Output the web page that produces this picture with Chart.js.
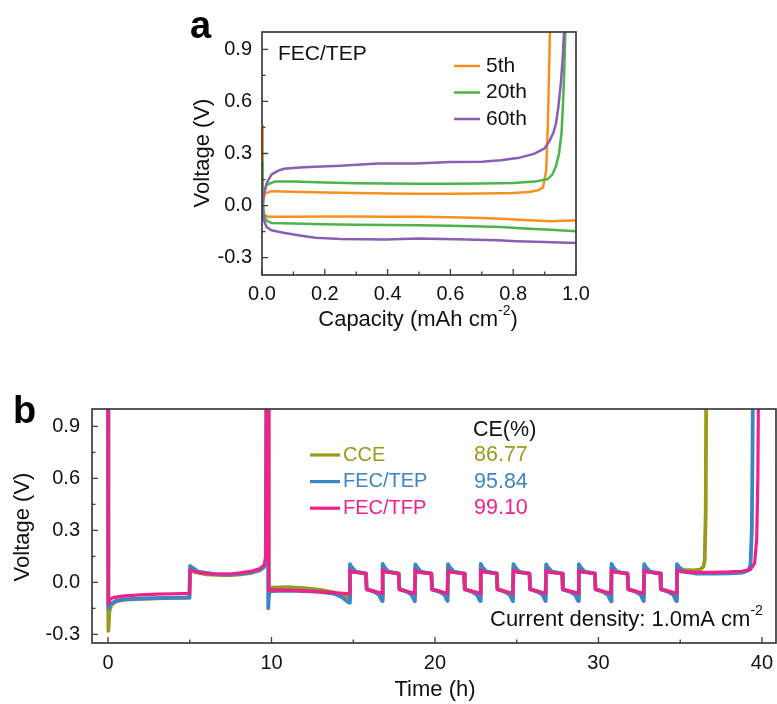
<!DOCTYPE html>
<html>
<head>
<meta charset="utf-8">
<script src="https://cdn.jsdelivr.net/npm/chart.js@4.4.1/dist/chart.umd.min.js"></script>
<style>
  body { margin: 0; background: #fff; }
  #wrap { position: relative; width: 777px; height: 704px; }
  #wrap canvas { position: absolute; left: 0; top: 0; }
</style>
</head>
<body>
<div id="wrap">
  <canvas id="chartA" width="777" height="704"></canvas>
  <canvas id="chartB" width="777" height="704"></canvas>
</div>
<script>
// ---- (a) voltage vs capacity, FEC/TEP ----
const capMajor = [0, 0.2, 0.4, 0.6, 0.8, 1.0];
const capMinor = [0.1, 0.3, 0.5, 0.7, 0.9];
const voltMajor = [-0.3, 0, 0.3, 0.6, 0.9];
const voltMinor = [-0.15, 0.15, 0.45, 0.75];
const cycleNames = ['5th', '20th', '60th'];

const cycle5Charge = [[0,-0.04],[0.004,0.03],[0.01,0.07],[0.03,0.083],[0.1,0.08],[0.2,0.076],[0.3,0.072],[0.4,0.069],[0.5,0.068],[0.6,0.068],[0.7,0.069],[0.8,0.072],[0.85,0.078],[0.88,0.088],[0.895,0.105],[0.905,0.2],[0.91,0.45],[0.914,0.75],[0.918,1.1]];
const cycle5Discharge = [[0,0.46],[0.001,0.15],[0.003,-0.02],[0.008,-0.055],[0.02,-0.064],[0.1,-0.064],[0.2,-0.063],[0.3,-0.063],[0.4,-0.064],[0.5,-0.065],[0.6,-0.068],[0.7,-0.072],[0.76,-0.076],[0.85,-0.084],[0.92,-0.09],[0.96,-0.088],[1.0,-0.086]];
const cycle20Charge = [[0,-0.05],[0.005,0.07],[0.015,0.12],[0.04,0.138],[0.1,0.138],[0.2,0.133],[0.3,0.129],[0.4,0.127],[0.5,0.126],[0.6,0.126],[0.7,0.127],[0.8,0.13],[0.87,0.138],[0.91,0.153],[0.925,0.18],[0.936,0.225],[0.946,0.3],[0.954,0.42],[0.959,0.6],[0.963,0.8],[0.967,1.05]];
const cycle20Discharge = [[0,0.25],[0.002,0.05],[0.006,-0.05],[0.015,-0.088],[0.03,-0.1],[0.1,-0.104],[0.2,-0.107],[0.3,-0.11],[0.4,-0.112],[0.5,-0.113],[0.6,-0.116],[0.7,-0.12],[0.76,-0.124],[0.85,-0.133],[0.92,-0.14],[1.0,-0.148]];
const cycle60Charge = [[0,-0.02],[0.005,0.06],[0.015,0.13],[0.03,0.178],[0.05,0.2],[0.07,0.212],[0.12,0.219],[0.17,0.223],[0.25,0.23],[0.37,0.242],[0.49,0.242],[0.6,0.251],[0.7,0.253],[0.76,0.261],[0.82,0.276],[0.866,0.298],[0.9,0.33],[0.915,0.37],[0.928,0.42],[0.936,0.47],[0.944,0.57],[0.952,0.71],[0.958,0.86],[0.963,1.05]];
const cycle60Discharge = [[0,0.0],[0.005,-0.08],[0.015,-0.125],[0.03,-0.142],[0.068,-0.157],[0.12,-0.172],[0.17,-0.185],[0.25,-0.192],[0.39,-0.195],[0.5,-0.19],[0.65,-0.195],[0.75,-0.2],[0.81,-0.205],[0.9,-0.21],[1.0,-0.216]];

// ---- (b) voltage vs time, three electrolytes ----
const timeMajor = [0, 10, 20, 30, 40];
const timeMinor = [5, 15, 25, 35];
const electrolytes = ['CCE', 'FEC/TEP', 'FEC/TFP'];
const ceValues = ['86.77', '95.84', '99.10'];

const cceVolt = [
  [0,1.3],[0.02,-0.28],[0.08,-0.17],[0.2,-0.13],[0.5,-0.11],[1,-0.1],[2,-0.095],[3,-0.092],[4,-0.09],[4.98,-0.088],
  [5.02,0.075],[5.3,0.06],[6,0.046],[7,0.041],[8,0.045],[8.8,0.055],[9.3,0.07],[9.55,0.09],[9.66,0.13],[9.7,1.3],[9.8,1.3],[9.83,-0.08],[9.9,-0.03],
  [11,-0.028],[12,-0.033],[13,-0.044],[13.8,-0.058],[14.4,-0.075],[14.76,-0.092],
  [14.8,0.085],[15.05,0.062],[15.78,0.05],[15.82,-0.038],[16.35,-0.055],[16.65,-0.068],[16.76,-0.085],
  [16.8,0.084],[17.05,0.062],[17.78,0.05],[17.82,-0.038],[18.35,-0.055],[18.65,-0.068],[18.76,-0.086],
  [18.8,0.085],[19.05,0.061],[19.78,0.05],[19.82,-0.039],[20.35,-0.055],[20.65,-0.069],[20.76,-0.085],
  [20.8,0.084],[21.05,0.062],[21.78,0.05],[21.82,-0.038],[22.35,-0.056],[22.65,-0.068],[22.76,-0.086],
  [22.8,0.085],[23.05,0.062],[23.78,0.051],[23.82,-0.038],[24.35,-0.055],[24.65,-0.069],[24.76,-0.085],
  [24.8,0.085],[25.05,0.061],[25.78,0.05],[25.82,-0.038],[26.35,-0.055],[26.65,-0.068],[26.76,-0.086],
  [26.8,0.084],[27.05,0.062],[27.78,0.05],[27.82,-0.039],[28.35,-0.055],[28.65,-0.069],[28.76,-0.085],
  [28.8,0.085],[29.05,0.062],[29.78,0.051],[29.82,-0.038],[30.35,-0.056],[30.65,-0.068],[30.76,-0.086],
  [30.8,0.084],[31.05,0.061],[31.78,0.05],[31.82,-0.038],[32.35,-0.055],[32.65,-0.069],[32.76,-0.085],
  [32.8,0.085],[33.05,0.062],[33.78,0.05],[33.82,-0.038],[34.35,-0.055],[34.65,-0.068],[34.76,-0.086],
  [34.8,0.09],[35.2,0.072],[35.8,0.069],[36.2,0.073],[36.42,0.09],[36.5,0.13],[36.56,0.4],[36.6,1.3]
];
const tepVolt = [
  [0,1.3],[0.02,-0.15],[0.15,-0.125],[0.5,-0.105],[1,-0.098],[2,-0.094],[3,-0.091],[4,-0.089],[4.98,-0.088],
  [5.02,0.095],[5.15,0.085],[5.5,0.062],[6.5,0.047],[7.5,0.044],[8.1,0.05],[8.8,0.058],[9.3,0.072],[9.55,0.09],[9.65,0.12],[9.7,1.3],[9.78,1.3],[9.8,-0.15],[9.85,-0.06],
  [10,-0.05],[11,-0.047],[12,-0.05],[13,-0.055],[13.8,-0.065],[14.3,-0.085],[14.6,-0.108],[14.76,-0.118],
  [14.8,0.105],[14.92,0.085],[15.15,0.062],[15.78,0.05],[15.82,-0.04],[16.3,-0.055],[16.58,-0.072],[16.72,-0.1],[16.77,-0.108],
  [16.8,0.106],[16.92,0.086],[17.15,0.062],[17.78,0.05],[17.82,-0.04],[18.3,-0.055],[18.58,-0.073],[18.72,-0.101],[18.77,-0.109],
  [18.8,0.104],[18.92,0.085],[19.15,0.061],[19.78,0.05],[19.82,-0.041],[20.3,-0.055],[20.58,-0.072],[20.72,-0.1],[20.77,-0.107],
  [20.8,0.105],[20.92,0.085],[21.15,0.062],[21.78,0.05],[21.82,-0.04],[22.3,-0.056],[22.58,-0.072],[22.72,-0.101],[22.77,-0.108],
  [22.8,0.106],[22.92,0.086],[23.15,0.062],[23.78,0.051],[23.82,-0.04],[24.3,-0.055],[24.58,-0.073],[24.72,-0.1],[24.77,-0.109],
  [24.8,0.105],[24.92,0.085],[25.15,0.061],[25.78,0.05],[25.82,-0.04],[26.3,-0.055],[26.58,-0.072],[26.72,-0.1],[26.77,-0.108],
  [26.8,0.104],[26.92,0.085],[27.15,0.062],[27.78,0.05],[27.82,-0.041],[28.3,-0.056],[28.58,-0.072],[28.72,-0.101],[28.77,-0.108],
  [28.8,0.105],[28.92,0.086],[29.15,0.062],[29.78,0.051],[29.82,-0.04],[30.3,-0.055],[30.58,-0.073],[30.72,-0.1],[30.77,-0.109],
  [30.8,0.106],[30.92,0.085],[31.15,0.061],[31.78,0.05],[31.82,-0.04],[32.3,-0.055],[32.58,-0.072],[32.72,-0.1],[32.77,-0.108],
  [32.8,0.105],[32.92,0.085],[33.15,0.062],[33.78,0.05],[33.82,-0.04],[34.3,-0.056],[34.58,-0.072],[34.72,-0.101],[34.77,-0.108],
  [34.8,0.105],[34.95,0.085],[35.3,0.06],[36,0.05],[37,0.05],[38,0.052],[38.8,0.056],[39.15,0.068],[39.3,0.1],[39.38,0.3],[39.42,0.7],[39.46,1.3]
];
const tfpVolt = [
  [0,1.3],[0.02,-0.125],[0.1,-0.1],[0.3,-0.088],[1,-0.078],[2,-0.072],[3,-0.068],[4,-0.066],[4.98,-0.064],
  [5.02,0.07],[5.2,0.064],[5.6,0.055],[6.5,0.049],[7.5,0.048],[8.1,0.055],[8.8,0.065],[9.3,0.08],[9.55,0.1],[9.65,0.15],[9.7,1.3],[9.8,1.3],[9.84,-0.05],
  [9.95,-0.044],[10.5,-0.045],[11.5,-0.048],[12.5,-0.052],[13.5,-0.058],[14.4,-0.064],[14.76,-0.067],
  [14.8,0.07],[15.0,0.058],[15.78,0.052],[15.82,-0.042],[16.3,-0.052],[16.76,-0.062],
  [16.8,0.071],[17.0,0.058],[17.78,0.052],[17.82,-0.042],[18.3,-0.053],[18.76,-0.062],
  [18.8,0.07],[19.0,0.057],[19.78,0.052],[19.82,-0.043],[20.3,-0.052],[20.76,-0.063],
  [20.8,0.07],[21.0,0.058],[21.78,0.051],[21.82,-0.042],[22.3,-0.052],[22.76,-0.062],
  [22.8,0.071],[23.0,0.058],[23.78,0.052],[23.82,-0.042],[24.3,-0.053],[24.76,-0.062],
  [24.8,0.07],[25.0,0.058],[25.78,0.052],[25.82,-0.043],[26.3,-0.052],[26.76,-0.063],
  [26.8,0.07],[27.0,0.057],[27.78,0.051],[27.82,-0.042],[28.3,-0.052],[28.76,-0.062],
  [28.8,0.071],[29.0,0.058],[29.78,0.052],[29.82,-0.042],[30.3,-0.053],[30.76,-0.062],
  [30.8,0.07],[31.0,0.058],[31.78,0.052],[31.82,-0.043],[32.3,-0.052],[32.76,-0.063],
  [32.8,0.07],[33.0,0.058],[33.78,0.052],[33.82,-0.042],[34.3,-0.052],[34.76,-0.062],
  [34.8,0.07],[35.1,0.06],[36,0.058],[37,0.058],[38,0.06],[38.8,0.064],[39.3,0.075],[39.55,0.11],[39.68,0.25],[39.75,0.6],[39.8,1.3]
];

const FONT = '"Liberation Sans", Arial, sans-serif';

function pts(pairs) {
  return pairs.map(p => ({ x: p[0], y: p[1] }));
}

function curve(pairs, color, width, order) {
  return {
    data: pts(pairs), showLine: true, pointRadius: 0, borderColor: color,
    borderWidth: width, borderJoinStyle: 'round', tension: 0, order: order
  };
}

// text with optional superscript and trailing part
function drawLabel(ctx, it) {
  const size = it.size || 20;
  const main = (it.bold ? 'bold ' : '') + size + 'px ' + FONT;
  const supSize = Math.round(size * 0.65);
  const supFont = supSize + 'px ' + FONT;
  ctx.save();
  ctx.fillStyle = it.color || '#111';
  ctx.textAlign = 'left';
  ctx.textBaseline = it.baseline || 'middle';
  ctx.font = main;
  const w = ctx.measureText(it.text).width;
  let sw = 0, tw = 0;
  if (it.sup) { ctx.font = supFont; sw = ctx.measureText(it.sup).width; ctx.font = main; }
  if (it.tail) tw = ctx.measureText(it.tail).width;
  const total = w + sw + tw;
  ctx.translate(it.x, it.y);
  if (it.rotate) ctx.rotate(it.rotate);
  let x0 = it.align === 'center' ? -total / 2 : 0;
  ctx.fillText(it.text, x0, 0);
  if (it.sup) {
    ctx.font = supFont;
    ctx.fillText(it.sup, x0 + w, -size * 0.4);
    ctx.font = main;
  }
  if (it.tail) ctx.fillText(it.tail, x0 + w + sw, 0);
  ctx.restore();
}

// box frame, inward ticks, keys and annotation text
const panelDecor = {
  id: 'panelDecor',
  afterDraw(chart, args, opts) {
    const { ctx, chartArea: a, scales } = chart;
    ctx.save();
    ctx.strokeStyle = '#3c3c3c';
    ctx.lineWidth = 1.7;
    ctx.strokeRect(a.left, a.top, a.right - a.left, a.bottom - a.top);
    ctx.lineWidth = 1.3;
    ctx.beginPath();
    opts.xMajor.forEach(v => { const p = scales.x.getPixelForValue(v); ctx.moveTo(p, a.bottom); ctx.lineTo(p, a.bottom - 6); });
    opts.xMinor.forEach(v => { const p = scales.x.getPixelForValue(v); ctx.moveTo(p, a.bottom); ctx.lineTo(p, a.bottom - 3.5); });
    opts.yMajor.forEach(v => { const p = scales.y.getPixelForValue(v); ctx.moveTo(a.left, p); ctx.lineTo(a.left + 6, p); });
    opts.yMinor.forEach(v => { const p = scales.y.getPixelForValue(v); ctx.moveTo(a.left, p); ctx.lineTo(a.left + 3.5, p); });
    ctx.stroke();
    ctx.lineCap = 'butt';
    opts.keys.forEach(k => {
      ctx.strokeStyle = k.color; ctx.lineWidth = k.width;
      ctx.beginPath(); ctx.moveTo(k.x1, k.y); ctx.lineTo(k.x2, k.y); ctx.stroke();
    });
    ctx.restore();
    opts.texts.forEach(t => drawLabel(ctx, t));
  }
};

function axes(xr, yr, xMaj, yMaj, xFmt, xPad, yPad, xH, yW) {
  const tickFont = { family: FONT, size: 20 };
  return {
    x: {
      type: 'linear', position: 'bottom', min: xr[0], max: xr[1],
      afterBuildTicks: s => { s.ticks = xMaj.map(v => ({ value: v })); },
      afterFit: s => { s.height = xH; s.paddingLeft = 0; s.paddingRight = 0; },
      grid: { display: false, drawTicks: false }, border: { display: false },
      ticks: { font: tickFont, color: '#111', padding: xPad, autoSkip: false, maxRotation: 0, callback: xFmt }
    },
    y: {
      type: 'linear', position: 'left', min: yr[0], max: yr[1],
      afterBuildTicks: s => { s.ticks = yMaj.map(v => ({ value: v })); },
      afterFit: s => { s.width = yW; s.paddingTop = 0; s.paddingBottom = 0; },
      grid: { display: false, drawTicks: false }, border: { display: false },
      ticks: { font: tickFont, color: '#111', padding: yPad, autoSkip: false, callback: v => v.toFixed(1) }
    }
  };
}

const cycleColors = ['#f7901e', '#4cb448', '#8a5fb3'];
const elecColors = ['#9a9a1c', '#3d86c3', '#f2208a'];

new Chart(document.getElementById('chartA'), {
  type: 'scatter',
  data: {
    datasets: [
      curve(cycle5Charge, cycleColors[0], 2.5, 3), curve(cycle5Discharge, cycleColors[0], 2.5, 3),
      curve(cycle20Charge, cycleColors[1], 2.5, 2), curve(cycle20Discharge, cycleColors[1], 2.5, 2),
      curve(cycle60Charge, cycleColors[2], 2.5, 1), curve(cycle60Discharge, cycleColors[2], 2.5, 1)
    ]
  },
  options: {
    responsive: false, animation: false, events: [], devicePixelRatio: 1,
    layout: { padding: { left: 202, right: 201, top: 32, bottom: 369 } },
    scales: axes([0, 1.0], [-0.4, 1.0], capMajor, voltMajor, v => v.toFixed(1), 7, 10, 60, 60),
    plugins: {
      legend: { display: false }, tooltip: { enabled: false },
      panelDecor: {
        xMajor: capMajor, xMinor: capMinor, yMajor: voltMajor, yMinor: voltMinor,
        keys: cycleNames.map((n, i) => ({ x1: 454, x2: 480, y: 66 + i * 26.5, color: cycleColors[i], width: 2.5 })),
        texts: [
          { text: 'a', x: 190, y: 38, size: 38, bold: true, baseline: 'alphabetic', color: '#000' },
          { text: 'FEC/TEP', x: 278, y: 54, size: 21 },
          ...cycleNames.map((n, i) => ({ text: n, x: 486, y: 66 + i * 26.5, size: 21 })),
          { text: 'Capacity (mAh cm', sup: '-2', tail: ')', x: 418, y: 320, size: 22, align: 'center' },
          { text: 'Voltage (V)', x: 203, y: 153, size: 22, align: 'center', rotate: -Math.PI / 2 }
        ]
      }
    }
  },
  plugins: [panelDecor]
});

new Chart(document.getElementById('chartB'), {
  type: 'scatter',
  data: {
    datasets: [
      curve(tfpVolt, elecColors[2], 3.2, 1),
      curve(tepVolt, elecColors[1], 3.8, 2),
      curve(cceVolt, elecColors[0], 3.8, 3)
    ]
  },
  options: {
    responsive: false, animation: false, events: [], devicePixelRatio: 1,
    layout: { padding: { left: 32, right: 1, top: 409, bottom: 11 } },
    scales: axes([-0.98, 40.86], [-0.35, 1.0], timeMajor, voltMajor, v => String(v), 8, 12, 50, 60),
    plugins: {
      legend: { display: false }, tooltip: { enabled: false },
      panelDecor: {
        xMajor: timeMajor, xMinor: timeMinor, yMajor: voltMajor, yMinor: voltMinor,
        keys: electrolytes.map((n, i) => ({ x1: 310, x2: 340, y: 455 + i * 26.6, color: elecColors[i], width: 3.2 })),
        texts: [
          { text: 'b', x: 13, y: 423, size: 38, bold: true, baseline: 'alphabetic', color: '#000' },
          { text: 'CE(%)', x: 473, y: 430, size: 21.5 },
          ...electrolytes.map((n, i) => ({ text: n, x: 343, y: 455 + i * 26.6, size: 20, color: elecColors[i] })),
          ...ceValues.map((v, i) => ({ text: v, x: 474, y: 455 + i * 26.6, size: 21.5, color: elecColors[i] })),
          { text: 'Current density: 1.0mA cm', sup: '-2', x: 490, y: 620, size: 22 },
          { text: 'Time (h)', x: 435, y: 690, size: 22, align: 'center' },
          { text: 'Voltage (V)', x: 23, y: 527, size: 22, align: 'center', rotate: -Math.PI / 2 }
        ]
      }
    }
  },
  plugins: [panelDecor]
});
</script>
</body>
</html>
